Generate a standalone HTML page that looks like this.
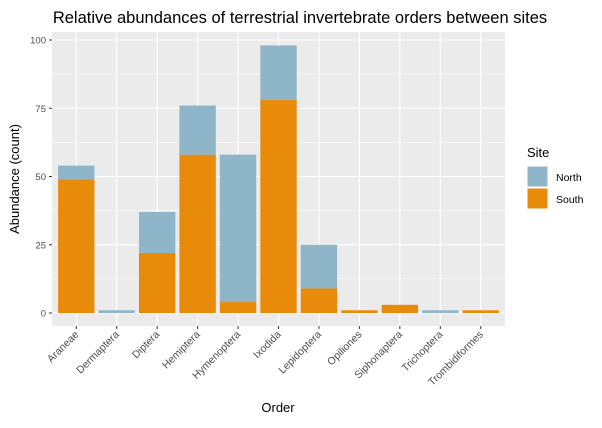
<!DOCTYPE html>
<html><head><meta charset="utf-8"><style>
body{margin:0;background:#fff;}
svg text{font-family:"Liberation Sans",Arial,sans-serif;}
</style></head><body>
<svg id="chart" width="602" height="423" xmlns="http://www.w3.org/2000/svg"></svg>
<script>
const categories=["Araneae","Dermaptera","Diptera","Hemiptera","Hymenoptera","Ixodida","Lepidoptera","Opiliones","Siphonaptera","Trichoptera","Trombidiformes"];
const southValues=[49,0,22,58,4,78,9,1,3,0,1];
const northValues=[5,1,15,18,54,20,16,0,0,1,0];
const yTicks=[0,25,50,75,100];
const NS="http://www.w3.org/2000/svg";
const svg=document.getElementById('chart');
const L=52,R=505,T=32,B=326;
const step=(R-L)/(categories.length+0.2);
const x=i=>L+(0.6+i)*step;
const y=v=>313-v*2.73;
function el(t,a,p){const e=document.createElementNS(NS,t);for(const k in a)e.setAttribute(k,a[k]);(p||svg).appendChild(e);return e;}
const bg=el('rect',{x:L,y:T,width:R-L,height:B-T,fill:'#ebebeb'});


for(let i=0;i<yTicks.length-1;i++){const m=(yTicks[i]+yTicks[i+1])/2;el('line',{x1:L,x2:R,y1:y(m),y2:y(m),stroke:'#fff','stroke-width':0.5});}
yTicks.forEach(t=>{el('line',{x1:L,x2:R,y1:y(t),y2:y(t),stroke:'#fff','stroke-width':1.1});
const tl=el('text',{x:L-6,y:y(t)+3.5,'text-anchor':'end','font-size':9.5,fill:'#4d4d4d'});tl.textContent=t;


el('line',{x1:L-3,x2:L,y1:y(t),y2:y(t),stroke:'#333'});});
categories.forEach((c,i)=>{el('line',{x1:x(i),x2:x(i),y1:T,y2:B,stroke:'#fff','stroke-width':1.1});});
const bw=step*0.9;
categories.forEach((c,i)=>{
 if(southValues[i]>0){const r=el('rect',{x:x(i)-bw/2,y:y(southValues[i]),width:bw,height:y(0)-y(southValues[i]),fill:'#e98b0a'});
 
 }
 if(northValues[i]>0){const top=southValues[i]+northValues[i];const r=el('rect',{x:x(i)-bw/2,y:y(top),width:bw,height:y(southValues[i])-y(top),fill:'#8fb5c8'});
 
 }
 el('line',{x1:x(i),x2:x(i),y1:B,y2:B+3,stroke:'#333'});
 const tx=x(i)+3,ty=B+9;
 const t=el('text',{x:tx,y:ty,'text-anchor':'end','font-size':10.5,fill:'#4d4d4d',transform:`rotate(-45 ${tx} ${ty})`});t.textContent=c;
 
 
});
</script>
<svg width="602" height="423" style="position:absolute;left:0;top:0" xmlns="http://www.w3.org/2000/svg">
<text x="300" y="23" text-anchor="middle" font-size="16.5" fill="#000">Relative abundances of terrestrial invertebrate orders between sites</text>
<text x="278" y="412" text-anchor="middle" font-size="13" fill="#000">Order</text>
<text x="0" y="0" transform="translate(19 179) rotate(-90)" text-anchor="middle" font-size="13" fill="#000">Abundance (count)</text>
<g>
<text x="527" y="157" font-size="13" fill="#000">Site</text>
<rect x="527" y="166" width="21" height="21" fill="#8fb5c8" stroke="#fff"/>
<rect x="527" y="188" width="21" height="21" fill="#e98b0a" stroke="#fff"/>
<text x="556" y="181" font-size="10.5" fill="#000">North</text>
<text x="556" y="203" font-size="10.5" fill="#000">South</text>
</g>
</svg>
</body></html>
